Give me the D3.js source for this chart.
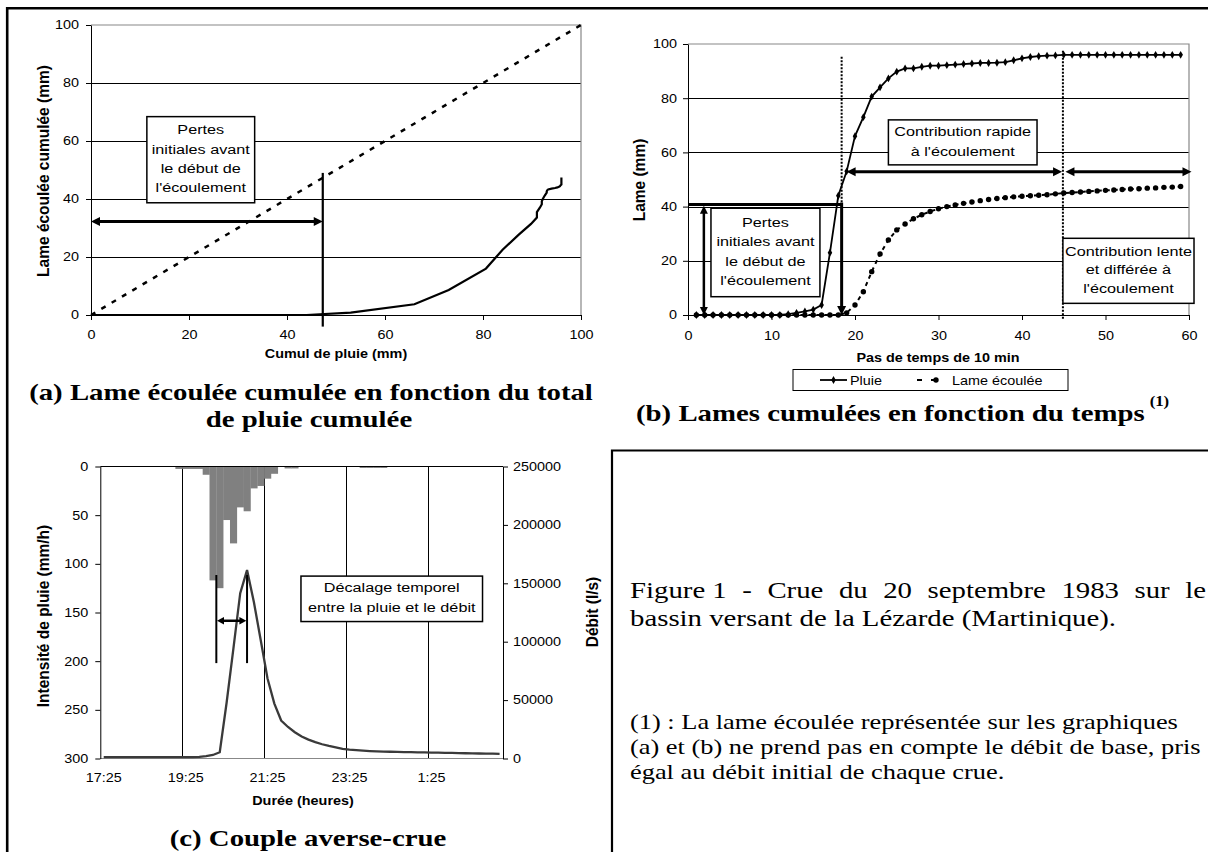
<!DOCTYPE html>
<html>
<head>
<meta charset="utf-8">
<script src="https://cdn.jsdelivr.net/npm/d3@7"></script>
<style>
body { margin: 0; background: #fff; }
svg { display: block; }
</style>
</head>
<body>
<div id="fig"></div>
<script>
// ---- données ----
// (b) pas de temps de 10 min, cumuls en mm
var pasTemps = d3.range(1, 60);
var pluie = [0,0,0,0,0,0,0,0,0,0,0, 0.3,0.8,1.3,2,3.7,23,44,53,66,73,80.6,84,87.3,89.8,91,91,91.6,92,92,
             92.2,92.4,92.6,92.8,93,93,93.1,93.3,94,94.7,95.2,95.5,95.7,95.8,
             96,96,96,96,96,96,96,96,96,96,96,96,96,96,96];
var lameEcoulee = [0,0,0,0,0,0,0,0,0,0,0,0,0,0,0,0,0,0,
             0.8,3.7,8.6,16,22.5,27.7,31.4,33.6,35.5,37,38.2,39.2,40,40.6,41.2,41.7,42.2,42.6,43,43.3,
             43.6,43.8,44,44.2,44.4,44.7,45,45.2,45.4,45.6,45.8,46,46.1,46.3,46.5,46.6,46.8,46.9,47.1,47.2,47.4];

// (c) averse (mm/h) et debit (l/s), un pas de 10 min a partir de 17:25
var pasC = d3.range(0, 59);
var intensite = [0,0,0,0,0,0,0,0,0,0,0, 2.5,2.5,2.5,2.5,8.5,117,125,55,79,42,46,22.5,20,12.5,7.5,0,2,2,
                 0,0,0,0,0,0,0,0,0, 1.5,1.5,1.5,1.5, 0,0,0,0,0,0,0,0,0,0,0,0,0,0,0,0,0];
var debit = [1200,1200,1200,1200,1200,1200,1200,1200,1200,1200,1200,1200,1200,1200,
             1400,2000,3000,5400,47500,94000,141500,161300,134000,101500,68500,47000,32500,27000,22500,18800,
             16200,14000,12200,10800,9600,8300,7600,7100,6700,6400,6150,5950,5800,5650,5500,5400,5300,5200,
             5100,5000,4900,4800,4650,4500,4400,4300,4200,4100,4000];
var heures = ["17:25", "19:25", "21:25", "23:25", "1:25"];

var ticksA = [0, 20, 40, 60, 80, 100];
var ticksB = [0, 10, 20, 30, 40, 50, 60];
var ticksPluieC = [0, 50, 100, 150, 200, 250, 300];
var ticksDebitC = [0, 50000, 100000, 150000, 200000, 250000];

// ---- mise en page ----
var SX = 1.2;  // le scan est etire horizontalement
var SANS = '"Liberation Sans", Arial, sans-serif';
var SERIF = '"Liberation Serif", "Times New Roman", serif';

var svg = d3.select("#fig").append("svg")
    .attr("width", 1208)
    .attr("height", 852);

svg.append("rect").attr("width", 1208).attr("height", 852).attr("fill", "#fff");

function texte(g, x, y, s, o) {
    o = o || {};
    return g.append("text")
        .attr("transform", "translate(" + x + "," + y + ") scale(" + (o.sx || SX) + ",1)")
        .attr("text-anchor", o.anchor || "middle")
        .attr("font-family", o.serif ? SERIF : SANS)
        .attr("font-size", o.size || 12)
        .attr("font-weight", o.bold ? "bold" : null)
        .attr("fill", "#000")
        .text(s);
}

function texteV(g, x, y, s) {
    return g.append("text")
        .attr("transform", "translate(" + x + "," + y + ") rotate(-90) scale(1,1.1)")
        .attr("text-anchor", "middle")
        .attr("dominant-baseline", "central")
        .attr("font-family", SANS)
        .attr("font-size", 15.5)
        .attr("font-weight", "bold")
        .text(s);
}

function boite(g, x0, y0, x1, y1, lignes, dy) {
    g.append("rect")
        .attr("x", x0).attr("y", y0)
        .attr("width", x1 - x0).attr("height", y1 - y0)
        .attr("fill", "#fff").attr("stroke", "#000").attr("stroke-width", 1.5);
    var cy = (y0 + y1) / 2 - (lignes.length - 1) * dy / 2 - 1.5;
    lignes.forEach(function(l, i) {
        texte(g, (x0 + x1) / 2, cy + i * dy + 5, l, {size: 13.5});
    });
}

function fleche(g, x1, y1, x2, y2, deb, fin, w, L, W) {
    var dx = x2 - x1, dy = y2 - y1, n = Math.hypot(dx, dy);
    var ux = dx / n, uy = dy / n;
    g.append("line")
        .attr("x1", x1 + (deb ? ux * L * 0.7 : 0)).attr("y1", y1 + (deb ? uy * L * 0.7 : 0))
        .attr("x2", x2 - (fin ? ux * L * 0.7 : 0)).attr("y2", y2 - (fin ? uy * L * 0.7 : 0))
        .attr("stroke", "#000").attr("stroke-width", w);
    function tete(tx, ty, vx, vy) {
        g.append("path")
            .attr("d", "M" + tx + "," + ty +
                "L" + (tx - vx * L - vy * W) + "," + (ty - vy * L + vx * W) +
                "L" + (tx - vx * L + vy * W) + "," + (ty - vy * L - vx * W) + "Z")
            .attr("fill", "#000");
    }
    if (fin) tete(x2, y2, ux, uy);
    if (deb) tete(x1, y1, -ux, -uy);
}

function styleAxe(g, size) {
    g.select(".domain").attr("stroke", "#000");
    g.selectAll(".tick line").attr("stroke", "#000");
    g.selectAll(".tick text")
        .attr("font-family", SANS)
        .attr("font-size", size || 12)
        .attr("fill", "#000")
        .attr("x", function() { var x = d3.select(this).attr("x"); return x ? +x / SX : null; })
        .attr("transform", "scale(" + SX + ",1)");
}

// ---- cadre general ----
svg.append("line").attr("x1", 6).attr("x2", 1208).attr("y1", 8.3).attr("y2", 8.3)
    .attr("stroke", "#000").attr("stroke-width", 2.4);
svg.append("line").attr("x1", 7.2).attr("x2", 7.2).attr("y1", 7).attr("y2", 852)
    .attr("stroke", "#000").attr("stroke-width", 2.6);
svg.append("path").attr("d", "M612,852V450.5H1208")
    .attr("fill", "none").attr("stroke", "#000").attr("stroke-width", 2.2);

// =========== (a) ===========
var xA = d3.scaleLinear().domain([0, 100]).range([91, 581]);
var yA = d3.scaleLinear().domain([0, 100]).range([315, 25]);
var gA = svg.append("g");

gA.selectAll(".grille").data([20, 40, 60, 80]).enter().append("line")
    .attr("x1", xA(0)).attr("x2", xA(100))
    .attr("y1", function(d) { return Math.round(yA(d)) + 0.5; })
    .attr("y2", function(d) { return Math.round(yA(d)) + 0.5; })
    .attr("stroke", "#000").attr("stroke-width", 1);
gA.append("path")
    .attr("d", "M" + xA(0) + "," + yA(100) + "H" + xA(100) + "V" + yA(0))
    .attr("fill", "none").attr("stroke", "#888").attr("stroke-width", 1.2);

gA.append("g").attr("transform", "translate(" + xA(0) + ",0)")
    .call(d3.axisLeft(yA).tickValues(ticksA).tickSize(5).tickSizeOuter(0).tickPadding(7))
    .call(styleAxe);
gA.append("g").attr("transform", "translate(0," + yA(0) + ")")
    .call(d3.axisBottom(xA).tickValues(ticksA).tickSize(5).tickSizeOuter(0).tickPadding(10))
    .call(styleAxe);

// bissectrice
gA.append("line")
    .attr("x1", xA(0)).attr("y1", yA(0)).attr("x2", xA(100)).attr("y2", yA(100))
    .attr("stroke", "#000").attr("stroke-width", 2.5).attr("stroke-dasharray", "5,7");

// lame ecoulee cumulee en fonction de la pluie cumulee
var courbeA = d3.line()
    .x(function(d) { return xA(d[0]); })
    .y(function(d) { return yA(d[1]); });
gA.append("path")
    .datum([[0, 0]].concat(pluie.map(function(p, i) { return [p, lameEcoulee[i]]; })))
    .attr("d", courbeA)
    .attr("fill", "none").attr("stroke", "#000").attr("stroke-width", 2.2);

gA.append("line")
    .attr("x1", xA(47.3)).attr("x2", xA(47.3)).attr("y1", yA(49)).attr("y2", yA(-4))
    .attr("stroke", "#000").attr("stroke-width", 2.2);
fleche(gA, xA(0), yA(32.2), xA(47.3), yA(32.2), true, true, 3, 9, 4.5);
boite(gA, xA(11.4), yA(68.4), xA(33.4), yA(38.7),
    ["Pertes", "initiales avant", "le début de", "l'écoulement"], 19.2);

texte(gA, 336, 358, "Cumul de pluie (mm)", {bold: true, size: 12});
texteV(gA, 43, 171, "Lame écoulée cumulée (mm)");

texte(gA, 311, 400, "(a) Lame écoulée cumulée en fonction du total", {serif: true, bold: true, size: 24});
texte(gA, 309, 427, "de pluie cumulée", {serif: true, bold: true, size: 24});

// =========== (b) ===========
var xB = d3.scaleLinear().domain([0, 60]).range([688, 1189]);
var yB = d3.scaleLinear().domain([0, 100]).range([315, 44]);
var gB = svg.append("g");

gB.selectAll(".grille").data([20, 40, 60, 80]).enter().append("line")
    .attr("x1", xB(0)).attr("x2", xB(60))
    .attr("y1", function(d) { return Math.round(yB(d)) + 0.5; })
    .attr("y2", function(d) { return Math.round(yB(d)) + 0.5; })
    .attr("stroke", "#000").attr("stroke-width", 1);
gB.append("path")
    .attr("d", "M" + xB(0) + "," + yB(100) + "H" + xB(60) + "V" + yB(0))
    .attr("fill", "none").attr("stroke", "#888").attr("stroke-width", 1.2);

gB.append("g").attr("transform", "translate(" + xB(0) + ",0)")
    .call(d3.axisLeft(yB).tickValues(ticksA).tickSize(5).tickSizeOuter(0).tickPadding(6))
    .call(styleAxe);
gB.append("g").attr("transform", "translate(0," + yB(0) + ")")
    .call(d3.axisBottom(xB).tickValues(ticksB).tickSize(5).tickSizeOuter(0).tickPadding(11))
    .call(styleAxe);

// traits de construction
gB.append("line")
    .attr("x1", xB(18.4)).attr("x2", xB(18.4)).attr("y1", yB(95.3)).attr("y2", yB(41))
    .attr("stroke", "#000").attr("stroke-width", 2).attr("stroke-dasharray", "2,1.5");
gB.append("line")
    .attr("x1", xB(44.9)).attr("x2", xB(44.9)).attr("y1", yB(97.5)).attr("y2", yB(-1.5))
    .attr("stroke", "#000").attr("stroke-width", 2).attr("stroke-dasharray", "2,1.5");

var ligneB = function(serie) {
    return d3.line()
        .x(function(d, i) { return xB(pasTemps[i]); })
        .y(function(d) { return yB(d); })(serie);
};
gB.append("path").attr("d", ligneB(lameEcoulee))
    .attr("fill", "none").attr("stroke", "#000").attr("stroke-width", 2).attr("stroke-dasharray", "4,4");
gB.selectAll(".pt-lame").data(lameEcoulee).enter().append("circle")
    .attr("cx", function(d, i) { return xB(pasTemps[i]); })
    .attr("cy", function(d) { return yB(d); })
    .attr("r", 2.7).attr("fill", "#000");

gB.append("path").attr("d", ligneB(pluie))
    .attr("fill", "none").attr("stroke", "#000").attr("stroke-width", 1.8);
var losange = d3.symbol().type(d3.symbolDiamond).size(18);
gB.selectAll(".pt-pluie").data(pluie).enter().append("path")
    .attr("d", losange)
    .attr("transform", function(d, i) { return "translate(" + xB(pasTemps[i]) + "," + yB(d) + ")"; })
    .attr("fill", "#000");

// pertes initiales
gB.append("line")
    .attr("x1", xB(0)).attr("x2", xB(18.4)).attr("y1", yB(40.8)).attr("y2", yB(40.8))
    .attr("stroke", "#000").attr("stroke-width", 3);
fleche(gB, xB(1.9), yB(40.3), xB(1.9), yB(0), true, true, 2.5, 8, 4);
fleche(gB, xB(18.4), yB(41.5), xB(18.4), yB(0), false, true, 3, 9, 4.5);
// contributions rapide et lente
fleche(gB, xB(19), yB(52.9), xB(44.8), yB(52.9), true, true, 3, 9, 4.5);
fleche(gB, xB(45.2), yB(52.9), xB(60.3), yB(52.9), true, true, 3, 9, 4.5);

boite(gB, xB(2.75), yB(39.4), xB(15.8), yB(6.75),
    ["Pertes", "initiales avant", "le début de", "l'écoulement"], 19.4);
boite(gB, xB(24), yB(72), xB(41.8), yB(55.4),
    ["Contribution rapide", "à l'écoulement"], 19.7);
boite(gB, xB(44.9), yB(28.3), xB(60.6), yB(4.3),
    ["Contribution lente", "et différée à", "l'écoulement"], 18.4);

texte(gB, 938, 362, "Pas de temps de 10 min", {bold: true, size: 12});
texteV(gB, 639, 180, "Lame (mm)");

// legende
var gL = gB.append("g");
gL.append("rect").attr("x", 793).attr("y", 369.5).attr("width", 275).attr("height", 21)
    .attr("fill", "#fff").attr("stroke", "#000").attr("stroke-width", 1);
gL.append("line").attr("x1", 820).attr("x2", 847).attr("y1", 380).attr("y2", 380)
    .attr("stroke", "#000").attr("stroke-width", 1.8);
gL.append("path").attr("d", losange).attr("transform", "translate(833.5,380)").attr("fill", "#000");
texte(gL, 850, 384.5, "Pluie", {anchor: "start", size: 12});
gL.append("line").attr("x1", 917).attr("x2", 945).attr("y1", 380).attr("y2", 380)
    .attr("stroke", "#000").attr("stroke-width", 2).attr("stroke-dasharray", "5,9");
gL.append("circle").attr("cx", 936).attr("cy", 380).attr("r", 2.7).attr("fill", "#000");
texte(gL, 952, 384.5, "Lame écoulée", {anchor: "start", size: 12});

var titreB = texte(gB, 636, 421, "(b) Lames cumulées en fonction du temps", {serif: true, bold: true, size: 24, anchor: "start"});
var largeurB = titreB.node().getComputedTextLength() * SX;
texte(gB, 636 + largeurB + 5, 406, "(1)", {serif: true, bold: true, size: 14, anchor: "start"});

// =========== (c) ===========
var xC = d3.scaleLinear().domain([0, 59]).range([100.3, 503]);
var yPluie = d3.scaleLinear().domain([0, 300]).range([466.5, 758.5]);
var yDebit = d3.scaleLinear().domain([0, 250000]).range([758.5, 466.5]);
var gC = svg.append("g");

gC.selectAll(".grille").data([12, 24, 36, 48]).enter().append("line")
    .attr("x1", function(d) { return Math.round(xC(d)) + 0.5; })
    .attr("x2", function(d) { return Math.round(xC(d)) + 0.5; })
    .attr("y1", yPluie(0)).attr("y2", yPluie(300))
    .attr("stroke", "#000").attr("stroke-width", 1);

gC.selectAll(".barre")
    .data(pasC.filter(function(i) { return intensite[i] > 0; }))
    .enter().append("rect").attr("class", "barre")
    .attr("x", function(i) { return xC(i); })
    .attr("width", function(i) { return xC(i + 1) - xC(i) + 0.3; })
    .attr("y", yPluie(0))
    .attr("height", function(i) { return yPluie(intensite[i]) - yPluie(0); })
    .attr("fill", "#808080");

gC.append("line").attr("x1", xC(0)).attr("x2", xC(59)).attr("y1", yPluie(300)).attr("y2", yPluie(300))
    .attr("stroke", "#888").attr("stroke-width", 1.2);

gC.append("g").attr("transform", "translate(" + xC(0) + ",0)")
    .call(d3.axisLeft(yPluie).tickValues(ticksPluieC).tickSize(5).tickSizeOuter(0).tickPadding(7))
    .call(styleAxe);
gC.append("g").attr("transform", "translate(" + xC(59) + ",0)")
    .call(d3.axisRight(yDebit).tickValues(ticksDebitC).tickSize(5).tickSizeOuter(0).tickPadding(5)
        .tickFormat(d3.format("d")))
    .call(styleAxe);
gC.append("line").attr("x1", xC(0)).attr("x2", xC(59)).attr("y1", yPluie(0)).attr("y2", yPluie(0))
    .attr("stroke", "#000").attr("stroke-width", 1.2);
var axeTemps = gC.append("g").attr("transform", "translate(3," + yPluie(300) + ")")
    .call(d3.axisBottom(xC).tickValues([0, 12, 24, 36, 48]).tickSize(0).tickPadding(15)
        .tickFormat(function(d, i) { return heures[i]; }))
    .call(styleAxe);
axeTemps.select(".domain").remove();

gC.append("path")
    .datum(debit)
    .attr("d", d3.line()
        .x(function(d, i) { return xC(pasC[i] + 0.5); })
        .y(function(d) { return yDebit(d); }))
    .attr("fill", "none").attr("stroke", "#3a3a3a").attr("stroke-width", 2.3);

// decalage temporel
gC.append("line").attr("x1", xC(17)).attr("x2", xC(17)).attr("y1", yPluie(111.5)).attr("y2", yPluie(202))
    .attr("stroke", "#000").attr("stroke-width", 2);
gC.append("line").attr("x1", xC(21.5)).attr("x2", xC(21.5)).attr("y1", yPluie(111.5)).attr("y2", yPluie(202))
    .attr("stroke", "#000").attr("stroke-width", 2);
fleche(gC, xC(17.1), yPluie(158.5), xC(21.4), yPluie(158.5), true, true, 2.5, 7, 3.8);
boite(gC, xC(29.4), yPluie(112.6), xC(56), yPluie(159.3),
    ["Décalage temporel", "entre la pluie et le débit"], 20);

texte(gC, 303, 805, "Durée (heures)", {bold: true, size: 12});
texteV(gC, 43, 616, "Intensité de pluie (mm/h)");
texteV(gC, 592, 612, "Débit (l/s)");
texte(gC, 308, 846, "(c) Couple averse-crue", {serif: true, bold: true, size: 24});

// =========== texte ===========
var gT = svg.append("g");
var mots = ["Figure 1", "-", "Crue", "du", "20", "septembre", "1983", "sur", "le"];
var larg = mots.map(function(m) {
    var t = texte(gT, 0, 0, m, {serif: true, size: 24, anchor: "start"});
    var w = t.node().getComputedTextLength() * SX;
    t.remove();
    return w;
});
var ecart = (1206 - 630 - d3.sum(larg)) / (mots.length - 1);
var cx = 630;
mots.forEach(function(m, i) {
    texte(gT, cx, 598, m, {serif: true, size: 24, anchor: "start"});
    cx += larg[i] + ecart;
});
texte(gT, 630, 626, "bassin versant de la Lézarde (Martinique).", {serif: true, size: 24, anchor: "start"});

var notes = ["(1) : La lame écoulée représentée sur les graphiques",
             "(a) et (b) ne prend pas en compte le débit de base, pris",
             "égal au débit initial de chaque crue."];
notes.forEach(function(n, i) {
    texte(gT, 630, 729 + i * 25, n, {serif: true, size: 22, anchor: "start"});
});
</script>
</body>
</html>
